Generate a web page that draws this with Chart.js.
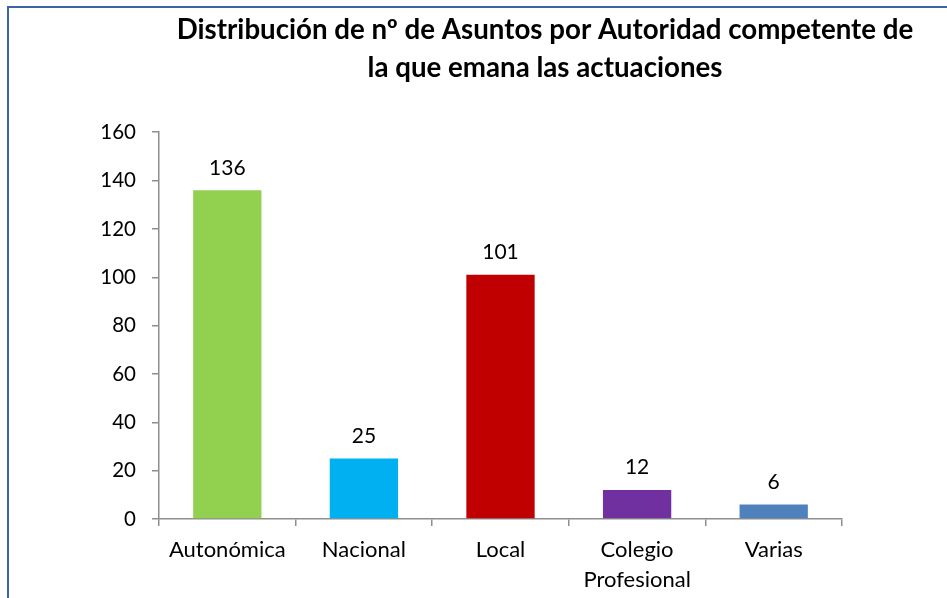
<!DOCTYPE html>
<html>
<head>
<meta charset="utf-8">
<script src="https://cdn.jsdelivr.net/npm/chart.js@4.4.1/dist/chart.umd.min.js"></script>
<style>
  html, body { margin: 0; padding: 0; background: #fff; overflow: hidden; }
  #wrap { position: relative; width: 947px; height: 598px; }
  #frame { position: absolute; left: 7px; top: 6px; width: 960px; height: 620px; border: 2px solid #3c66a3; box-sizing: border-box; }
  canvas { position: absolute; left: 0; top: 0; }
</style>
</head>
<body>
<div id="wrap">
  <div id="frame"></div>
  <canvas id="myChart" width="947" height="598"></canvas>
</div>
<script>
var categories = ["Autonómica", "Nacional", "Local", ["Colegio", "Profesional"], "Varias"];
var values = [136, 25, 101, 12, 6];
var barColors = ["#92d050", "#00b0f0", "#c00000", "#7030a0", "#4f81bd"];
var titleLines = ["Distribución de nº de Asuntos por Autoridad competente de", "la que emana las actuaciones"];

var fontName = "Lato, 'Open Sans', sans-serif";

// title is centred a bit right of the canvas middle
var titleShift = {
  id: "titleShift",
  afterLayout: function(chart) {
    if (chart.titleBlock) {
      chart.titleBlock.left = 143;
      chart.titleBlock.right = 947;
    }
  }
};

// numbers above the bars
var barLabels = {
  id: "barLabels",
  afterDatasetsDraw: function(chart) {
    var ctx = chart.ctx;
    var meta = chart.getDatasetMeta(0);
    ctx.save();
    ctx.font = "21px " + fontName;
    ctx.fillStyle = "#000";
    ctx.textAlign = "center";
    ctx.textBaseline = "bottom";
    for (var i = 0; i < meta.data.length; i++) {
      var bar = meta.data[i];
      ctx.fillText(values[i], bar.x, bar.y - 12);
    }
    ctx.restore();
  }
};

function init() {

  var ctx = document.getElementById("myChart");
  var myChart = new Chart(ctx, {
    type: "bar",
    data: {
      labels: categories,
      datasets: [
        {
          data: values,
          backgroundColor: barColors,
          barPercentage: 0.5,
          categoryPercentage: 1
        }
      ]
    },
    options: {
      responsive: false,
      animation: false,
      layout: {
        padding: { left: 0, right: 105, top: 12, bottom: 0 }
      },
      plugins: {
        legend: { display: false },
        tooltip: { enabled: false },
        title: {
          display: true,
          text: titleLines,
          color: "#000",
          font: { family: fontName, size: 27.7, weight: "bold", lineHeight: 1.34 },
          padding: { top: 0, bottom: 46 }
        }
      },
      scales: {
        x: {
          grid: {
            drawOnChartArea: false,
            offset: true,
            tickLength: 7,
            color: "#8e8e8e",
            lineWidth: 1.5
          },
          border: { color: "#8e8e8e", width: 1.5 },
          ticks: {
            color: "#000",
            font: { family: fontName, size: 22, lineHeight: 1.36 },
            padding: 9,
            maxRotation: 0,
            autoSkip: false
          },
          afterFit: function(scale) {
            scale.height = 79;
          }
        },
        y: {
          min: 0,
          max: 160,
          grid: {
            drawOnChartArea: false,
            tickLength: 7,
            color: "#8e8e8e",
            lineWidth: 1.5
          },
          border: { color: "#8e8e8e", width: 1.5 },
          ticks: {
            stepSize: 20,
            color: "#000",
            font: { family: fontName, size: 20.5 },
            padding: 16
          },
          afterFit: function(scale) {
            scale.width = 159;
          }
        }
      }
    },
    plugins: [titleShift, barLabels]
  });
}

init();
</script>
</body>
</html>
